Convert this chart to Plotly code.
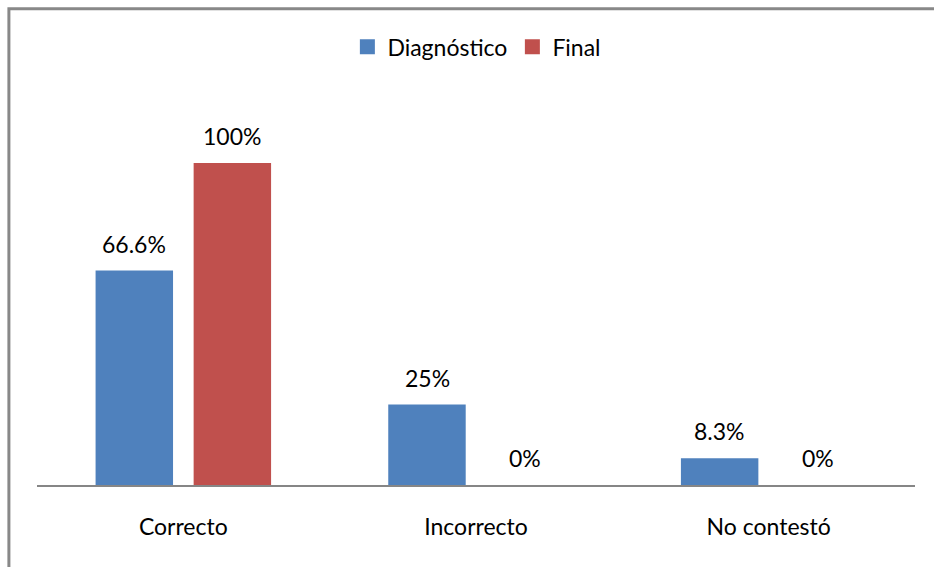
import plotly.graph_objects as go

# Datos del gráfico
categorias = ["Correcto", "Incorrecto", "No contestó"]
diagnostico = [66.6, 25, 8.3]
final = [100, 0, 0]
etiquetas_diag = ["66.6%", "25%", "8.3%"]
etiquetas_final = ["100%", "0%", "0%"]
series = ["Diagnóstico", "Final"]

FONT = "Lato, 'Open Sans', sans-serif"
SIZE = 23
AZUL = "#4F81BD"
ROJO = "#C0504D"

fig = go.Figure()
fig.add_trace(go.Bar(name=series[0], x=categorias, y=diagnostico, showlegend=False,
                     marker=dict(color=AZUL, line=dict(width=0))))
fig.add_trace(go.Bar(name=series[1], x=categorias, y=final, showlegend=False,
                     marker=dict(color=ROJO, line=dict(width=0))))

# Entradas de leyenda con cuadrados grandes
for nombre, color in zip(series, (AZUL, ROJO)):
    fig.add_trace(go.Scatter(name=nombre, x=[None], y=[None], mode="markers",
                             marker=dict(symbol="square", size=15, color=color)))

# Etiquetas de valor sobre cada barra
desplazamiento = 49
for serie, etiquetas, signo in ((diagnostico, etiquetas_diag, -1), (final, etiquetas_final, 1)):
    for cat, val, txt in zip(categorias, serie, etiquetas):
        fig.add_annotation(x=cat, y=val, text=txt, showarrow=False,
                           xshift=signo * desplazamiento, yshift=27,
                           font=dict(family=FONT, size=SIZE, color="black"))

# Marco gris del área del gráfico
fig.add_shape(type="rect", xref="paper", yref="paper",
              x0=-0.032, x1=1.2, y0=-0.4, y1=1.237,
              line=dict(color="#888888", width=3), fillcolor="rgba(0,0,0,0)", layer="below")

fig.update_layout(
    width=934, height=567,
    margin=dict(l=37, r=19, t=100, b=82, autoexpand=False),
    paper_bgcolor="white", plot_bgcolor="white",
    barmode="group", bargap=0.33, bargroupgap=0.21,
    font=dict(family=FONT, size=SIZE, color="black"),
    showlegend=True,
    legend=dict(orientation="h", x=0.501, xanchor="center", y=1.138, yanchor="middle",
                font=dict(family=FONT, size=SIZE, color="black"),
                itemwidth=30, tracegroupgap=0, bgcolor="rgba(0,0,0,0)"),
    xaxis=dict(showline=True, linecolor="#868686", linewidth=2, ticks="",
               tickfont=dict(family=FONT, size=SIZE, color="black"),
               showgrid=False, zeroline=False, ticklabelstandoff=20),
    yaxis=dict(range=[0, 119.6], visible=False, showgrid=False, zeroline=False),
)

fig.write_html("out.html")
